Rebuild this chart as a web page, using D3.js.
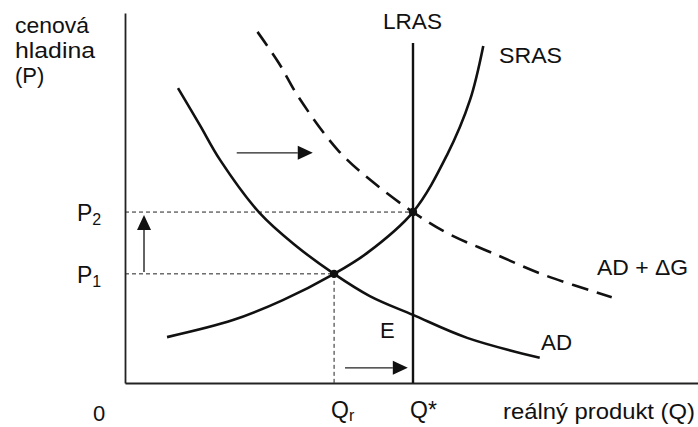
<!DOCTYPE html>
<html><head><meta charset="utf-8">
<script src="https://cdn.jsdelivr.net/npm/d3@7/dist/d3.min.js"></script>
<style>
html,body{margin:0;padding:0;background:#fff;}
svg{display:block;}
text{font-family:"Liberation Sans",Arial,Helvetica,sans-serif;fill:#111;}
</style></head>
<body>
<svg id="c" width="698" height="427"></svg>
<script>
// ---- data (abstract units: Q on x, P on y) ----
const Qr = 3.63, Qstar = 5.0;      // output levels
const P1 = 2.95, P2 = 4.62;        // price levels
const sras = [[0.73,1.24],[1.875,1.70],[2.74,2.24],[3.63,2.95],[4.20,3.51],[5.0,4.62],[5.59,6.16],[5.99,7.65],[6.22,9.11]];
const ad = [[0.92,7.97],[1.30,6.97],[1.65,6.03],[2.34,4.59],[2.95,3.73],[3.63,2.95],[4.25,2.35],[5.0,1.84],[5.94,1.22],[7.20,0.68]];
const adG = [[2.30,9.49],[2.67,8.65],[3.02,7.71],[3.71,6.27],[4.32,5.41],[5.0,4.62],[5.62,4.03],[6.37,3.52],[7.31,2.90],[8.45,2.32]];
const lrasTop = 9.19;
const points = [[Qr,P1],[Qstar,P2]];
const shiftArrows = [ // [x1,y1,x2,y2]
  [1.94,6.22,3.26,6.22],
  [3.82,0.41,4.91,0.41],
  [0.33,3.0,0.33,4.54]
];
const yTickLabels = [{v:P1, main:"P", sub:"1"},{v:P2, main:"P", sub:"2"}];
const xTickLabels = [{v:Qr, main:"Q", sub:"r"},{v:Qstar, main:"Q*", sub:""}];

// ---- chart ----
const svg = d3.select("#c");
const x = d3.scaleLinear().domain([0,10]).range([125,701]);
const y = d3.scaleLinear().domain([0,10]).range([383,13]);

// guide dashed lines
const g = svg.append("g").attr("stroke","#222").attr("stroke-width",1).attr("stroke-dasharray","4,3").attr("fill","none");
g.append("line").attr("x1",x(0)).attr("x2",x(Qstar)).attr("y1",y(P2)).attr("y2",y(P2));
g.append("line").attr("x1",x(0)).attr("x2",x(Qr)).attr("y1",y(P1)).attr("y2",y(P1));
g.append("line").attr("x1",x(Qr)).attr("x2",x(Qr)).attr("y1",y(P1)).attr("y2",y(0));

// axes
svg.append("g").attr("transform",`translate(${x(0)},0)`)
  .call(d3.axisLeft(y).tickValues([]).tickSizeOuter(0))
  .call(s=>s.select(".domain").attr("stroke","#222").attr("stroke-width",1.8));
svg.append("g").attr("transform",`translate(0,${y(0)})`)
  .call(d3.axisBottom(x).tickValues([]).tickSizeOuter(0))
  .call(s=>s.select(".domain").attr("stroke","#222").attr("stroke-width",1.8));

// LRAS
svg.append("line").attr("x1",x(Qstar)).attr("x2",x(Qstar)).attr("y1",y(lrasTop)).attr("y2",y(0))
  .attr("stroke","#111").attr("stroke-width",2.4);

const line = d3.line().x(d=>x(d[0])).y(d=>y(d[1])).curve(d3.curveCatmullRom.alpha(0.5));
svg.append("path").attr("d",line(sras)).attr("fill","none").attr("stroke","#111").attr("stroke-width",2.6);
svg.append("path").attr("d",line(ad)).attr("fill","none").attr("stroke","#111").attr("stroke-width",2.6);
svg.append("path").attr("d",line(adG)).attr("fill","none").attr("stroke","#111").attr("stroke-width",2.6)
  .attr("stroke-dasharray","17,9");

// points
svg.selectAll("circle.pt").data(points).join("circle").attr("class","pt")
  .attr("cx",d=>x(d[0])).attr("cy",d=>y(d[1])).attr("r",4.2).attr("fill","#111");

// arrows
shiftArrows.forEach(a=>{
  const x1=x(a[0]),y1=y(a[1]),x2=x(a[2]),y2=y(a[3]);
  const ang=Math.atan2(y2-y1,x2-x1), L=15, W=7;
  const bx=x2-L*Math.cos(ang), by=y2-L*Math.sin(ang);
  svg.append("line").attr("x1",x1).attr("y1",y1).attr("x2",bx).attr("y2",by).attr("stroke","#222").attr("stroke-width",1.4);
  const px=-Math.sin(ang)*W, py=Math.cos(ang)*W;
  svg.append("path").attr("d",`M${x2},${y2}L${bx+px},${by+py}L${bx-px},${by-py}Z`).attr("fill","#111");
});

// labels
const fs = 22;
function lab(t, xx, yy, len, anchor){
  const e = svg.append("text").attr("x",xx).attr("y",yy).attr("font-size",fs).text(t);
  if(len) e.attr("textLength",len).attr("lengthAdjust","spacingAndGlyphs");
  if(anchor) e.attr("text-anchor",anchor);
  return e;
}
lab("cenová",15,33,74);
lab("hladina",15,58,80);
lab("(P)",15,83);
lab("LRAS",383,29,59);
lab("SRAS",499,63,63);
lab("AD + ΔG",597,275,91);
lab("AD",541,350,31);
lab("E",380,338);
lab("0",93,421);
lab("reálný produkt (Q)",503,419,192);

yTickLabels.forEach(t=>{
  const e = svg.append("text").attr("x",x(0)-48).attr("y",y(t.v)+9).attr("font-size",23);
  e.append("tspan").text(t.main);
  e.append("tspan").attr("font-size",16).attr("dy",4).text(t.sub);
});
xTickLabels.forEach(t=>{
  const e = svg.append("text").attr("x",x(t.v)-3).attr("y",418).attr("font-size",23);
  e.append("tspan").text(t.main);
  if(t.sub) e.append("tspan").attr("font-size",16).attr("dy",3).text(t.sub);
});
</script>
</body></html>
